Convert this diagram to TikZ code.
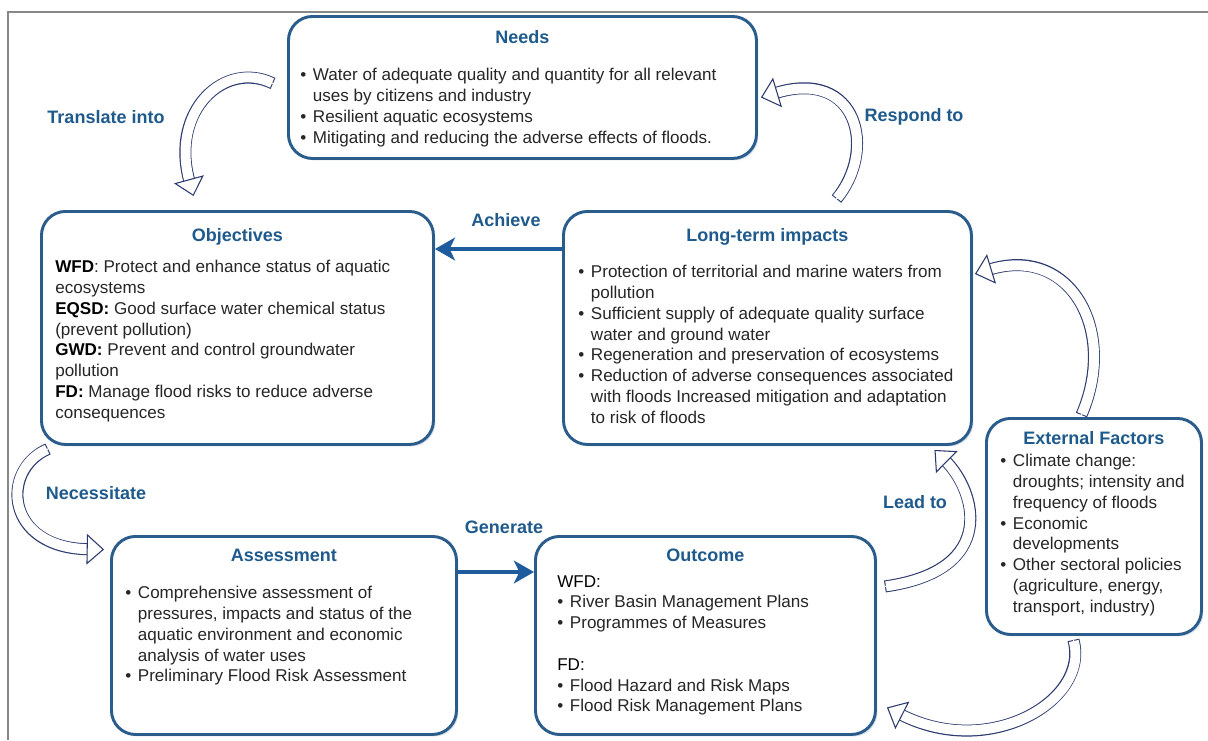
\documentclass[tikz,border=0pt]{standalone}
\usepackage{fontspec}
\setmainfont{Liberation Sans}
\usetikzlibrary{arrows.meta,calc,shadows}
\definecolor{boxblue}{HTML}{2A5C8C}
\definecolor{titleblue}{HTML}{1F5A8C}
\definecolor{arrowblue}{HTML}{1F5C9E}
\definecolor{navyc}{HTML}{2C3A6E}
\definecolor{textgray}{HTML}{262626}
\definecolor{shadowc}{HTML}{C9D6E3}
\definecolor{framec}{HTML}{888888}
\newcommand\bul{\makebox[9.5pt][l]{\textbullet}}
\newcommand\ind{\hspace*{9.5pt}}
\newcommand\harrow[1]{%
  \draw[line width=9pt, navyc, shorten >=12pt] #1;
  \draw[line width=7.5pt, white, shorten >=11pt, shorten <=0.8pt] #1;
  \draw[line width=0.8pt, white, -{Triangle[length=13pt,width=23pt,color=navyc,fill=white]}] #1;
}
\begin{document}
\begin{tikzpicture}[x=0.75pt,y=-0.75pt,
  box/.style={draw=boxblue, line width=2.2pt, rounded corners=18pt, fill=white,
    inner sep=0pt, anchor=north west,
    drop shadow={shadow xshift=1.5pt, shadow yshift=-1.5pt, fill=shadowc, opacity=0.7}},
  ttl/.style={font=\fontsize{13.5}{16}\selectfont\bfseries, text=titleblue, anchor=base, inner sep=0pt},
  lbl/.style={font=\fontsize{13.5}{16}\selectfont\bfseries, text=titleblue, inner sep=0pt},
  body/.style={font=\fontsize{12.8}{15.6}\selectfont, text=textgray, align=left, anchor=north west, inner sep=0pt},
  bigarrow/.style={draw=arrowblue, line width=3pt, -{Stealth[length=15pt,width=17pt,inset=4pt]}}
]
\useasboundingbox (0,0) rectangle (1208,740);
\fill[white] (0,0) rectangle (1208,740);
\draw[framec, line width=1.5pt] (8,740) -- (8,12) -- (1208,12);

% boxes
\node[box, minimum width=351pt, minimum height=106.5pt] (needs) at (287,15) {};
\node[box, minimum width=294pt, minimum height=174.75pt] (obj) at (40,210) {};
\node[box, minimum width=306pt, minimum height=174.75pt] (lt) at (562,210) {};
\node[box, minimum width=161.25pt, minimum height=162pt] (ext) at (985,417) {};
\node[box, minimum width=258.75pt, minimum height=148.5pt] (ass) at (110,535) {};
\node[box, minimum width=255pt, minimum height=148.5pt] (out) at (534,535) {};

% titles
\node[ttl] (needs-t) at ($(needs.north)+(0,28)$) {Needs};
\node[ttl] (obj-t) at ($(obj.north)+(0,31.5)$) {Objectives};
\node[ttl] (lt-t) at ($(lt.north)+(0,31.5)$) {Long-term impacts};
\node[ttl] (ext-t) at ($(ext.north)+(0,27)$) {External Factors};
\node[ttl] (ass-t) at ($(ass.north)+(0,26)$) {Assessment};
\node[ttl] (out-t) at ($(out.north)+(0,26)$) {Outcome};

% bodies
\node[body] (needs-b) at ($(needs.north west)+(13,53)$) {%
\bul Water of adequate quality and quantity for all relevant\\
\ind uses by citizens and industry\\
\bul Resilient aquatic ecosystems\\
\bul Mitigating and reducing the adverse effects of floods.};

\node[body] (obj-b) at ($(obj.north west)+(15,50)$) {%
\textcolor{black}{\textbf{WFD}}: Protect and enhance status of aquatic\\
ecosystems\\
\textcolor{black}{\textbf{EQSD:}} Good surface water chemical status\\
(prevent pollution)\\
\textcolor{black}{\textbf{GWD:}} Prevent and control groundwater\\
pollution\\
\textcolor{black}{\textbf{FD:}} Manage flood risks to reduce adverse\\
consequences};

\node[body] (lt-b) at ($(lt.north west)+(16,55)$) {%
\bul Protection of territorial and marine waters from\\
\ind pollution\\
\bul Sufficient supply of adequate quality surface\\
\ind water and ground water\\
\bul Regeneration and preservation of ecosystems\\
\bul Reduction of adverse consequences associated\\
\ind with floods Increased mitigation and adaptation\\
\ind to risk of floods};

\node[body] (ext-b) at ($(ext.north west)+(15,37)$) {%
\bul Climate change:\\
\ind droughts; intensity and\\
\ind frequency of floods\\
\bul Economic\\
\ind developments\\
\bul Other sectoral policies\\
\ind (agriculture, energy,\\
\ind transport, industry)};

\node[body] (ass-b) at ($(ass.north west)+(15,51)$) {%
\bul Comprehensive assessment of\\
\ind pressures, impacts and status of the\\
\ind aquatic environment and economic\\
\ind analysis of water uses\\
\bul Preliminary Flood Risk Assessment};

\node[body] (out-b) at ($(out.north west)+(23,40)$) {%
\textcolor{black}{WFD:}\\
\bul River Basin Management Plans\\
\bul Programmes of Measures\\[15.6pt]
\textcolor{black}{FD:}\\
\bul Flood Hazard and Risk Maps\\
\bul Flood Risk Management Plans};

% straight arrows
\draw[bigarrow] ($(lt.north west)+(0,39)$) -- ($(obj.north east)+(0,39)$);
\draw[bigarrow] ($(ass.north east)+(0,37)$) -- ($(out.north west)+(0,37)$);

% labels
\node[lbl] (l-translate) at (106,117) {Translate into};
\node[lbl] (l-respond) at (914,117) {Respond to};
\node[lbl] (l-achieve) at (506,220) {Achieve};
\node[lbl] (l-necess) at (96,493) {Necessitate};
\node[lbl] (l-generate) at (504,527) {Generate};
\node[lbl] (l-lead) at (915,502) {Lead to};

% hollow curved arrows
\coordinate (a1s) at ($(needs.west)+(-14,-4)$);
\coordinate (a1e) at ($(obj.north)+(-44,-14)$);
\harrow{(a1s) .. controls (225,60) and (170,110) .. (a1e)}

\coordinate (a2s) at ($(lt.north)+(69,-11)$);
\coordinate (a2e) at ($(needs.east)+(3,10)$);
\harrow{(a2s) .. controls (877,150) and (858,68) .. (a2e)}

\coordinate (a3s) at ($(ext.north)+(-12.5,-2)$);
\coordinate (a3e) at ($(lt.east)+(2,-54)$);
\harrow{(a3s) .. controls (1118,330) and (1070,245) .. (a3e)}

\coordinate (a4s) at ($(obj.south west)+(8,3)$);
\coordinate (a4e) at ($(ass.west)+(-6,-86)$);
\harrow{(a4s) .. controls (0,470) and (5,548) .. (a4e)}

\coordinate (a5s) at ($(out.east)+(8,-49)$);
\coordinate (a5e) at ($(lt.south)+(167,4)$);
\harrow{(a5s) .. controls (1000,570) and (975,490) .. (a5e)}

\coordinate (a6s) at ($(ext.south)+(-20.5,4)$);
\coordinate (a6e) at ($(out.east)+(10,72)$);
\harrow{(a6s) .. controls (1090,700) and (990,760) .. (a6e)}
\end{tikzpicture}
\end{document}
